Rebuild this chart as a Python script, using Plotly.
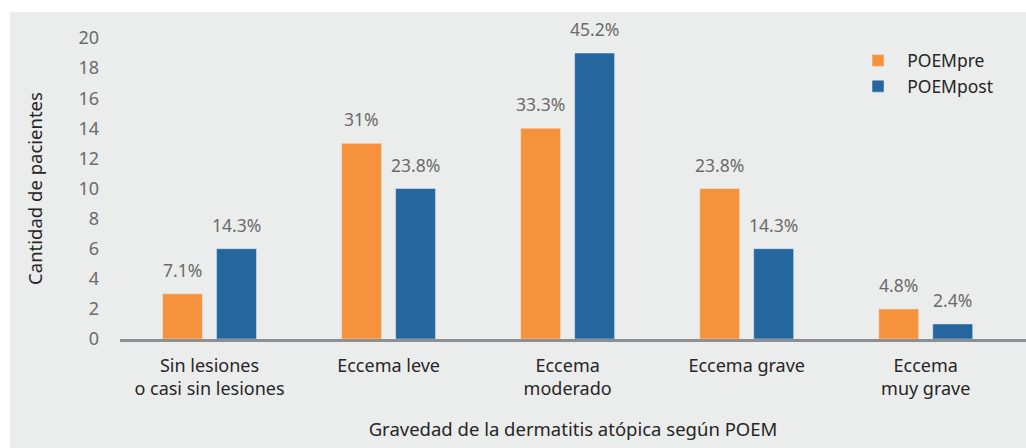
import plotly.graph_objects as go

categories = ["Sin lesiones<br>o casi sin lesiones", "Eccema leve", "Eccema<br>moderado",
              "Eccema grave", "Eccema<br>muy grave"]
pre_values = [3, 13, 14, 10, 2]
post_values = [6, 10, 19, 6, 1]
pre_labels = ["7.1%", "31%", "33.3%", "23.8%", "4.8%"]
post_labels = ["14.3%", "23.8%", "45.2%", "14.3%", "2.4%"]
y_ticks = [0, 2, 4, 6, 8, 10, 12, 14, 16, 18, 20]

FONT = "Noto Sans"
ORANGE = "#F6923C"
BLUE = "#26669F"
BG = "#EBECEC"
DARK = "#262626"
GRAY = "#6b6b6b"

fig = go.Figure()
fig.add_trace(go.Bar(name="\u00a0\u00a0POEMpre", x=categories, y=pre_values, marker_color=ORANGE,
                     legendgroup="a"))
fig.add_trace(go.Bar(name="\u00a0\u00a0POEMpost", x=categories, y=post_values, marker_color=BLUE,
                     legendgroup="b"))

for cat, v, t in zip(categories, pre_values, pre_labels):
    fig.add_annotation(x=cat, y=v, text=t, xref="x", yref="y", showarrow=False,
                       xshift=-27, yshift=10, yanchor="bottom",
                       font=dict(family=FONT, size=17.5, color=GRAY))
for cat, v, t in zip(categories, post_values, post_labels):
    fig.add_annotation(x=cat, y=v, text=t, xref="x", yref="y", showarrow=False,
                       xshift=27, yshift=10, yanchor="bottom",
                       font=dict(family=FONT, size=17.5, color=GRAY))

# gray panel background (white strip on top and left)
fig.add_shape(type="rect", xref="paper", yref="paper", x0=-0.1214, x1=1.05, y0=-0.5, y1=1.0864,
              fillcolor=BG, line_width=0, layer="below")

fig.update_layout(
    width=1026, height=448,
    margin=dict(l=120, r=0, t=38, b=109),
    paper_bgcolor="white", plot_bgcolor="rgba(0,0,0,0)",
    barmode="group", bargap=0.397, bargroupgap=0.26,
    font=dict(family=FONT, size=18, color=DARK),
    legend=dict(x=0.8146, y=0.985, xanchor="left", yanchor="top", bgcolor="rgba(0,0,0,0)",
                font=dict(family=FONT, size=17.5, color=DARK),
                traceorder="grouped", tracegroupgap=0),
    showlegend=True,
)
fig.update_xaxes(range=[-0.5, 4.56], showline=True, linecolor="#8C8F91", linewidth=3,
                 ticks="", showgrid=False, zeroline=False, ticklabelstandoff=8,
                 tickfont=dict(family=FONT, size=18, color=DARK),
                 title=dict(text="Gravedad de la dermatitis atópica según POEM",
                            font=dict(family=FONT, size=18.5, color=DARK), standoff=25))
fig.update_yaxes(range=[0, 20], tickvals=y_ticks, showgrid=False, zeroline=False, showline=False,
                 ticklabelstandoff=20,
                 tickfont=dict(family=FONT, size=18, color=GRAY),
                 title=dict(text="Cantidad de pacientes",
                            font=dict(family=FONT, size=18.5, color=DARK), standoff=30))

fig.write_html("out.html", config={"displayModeBar": False},
               post_script="document.body.style.margin='0';document.body.style.overflow='hidden';")
